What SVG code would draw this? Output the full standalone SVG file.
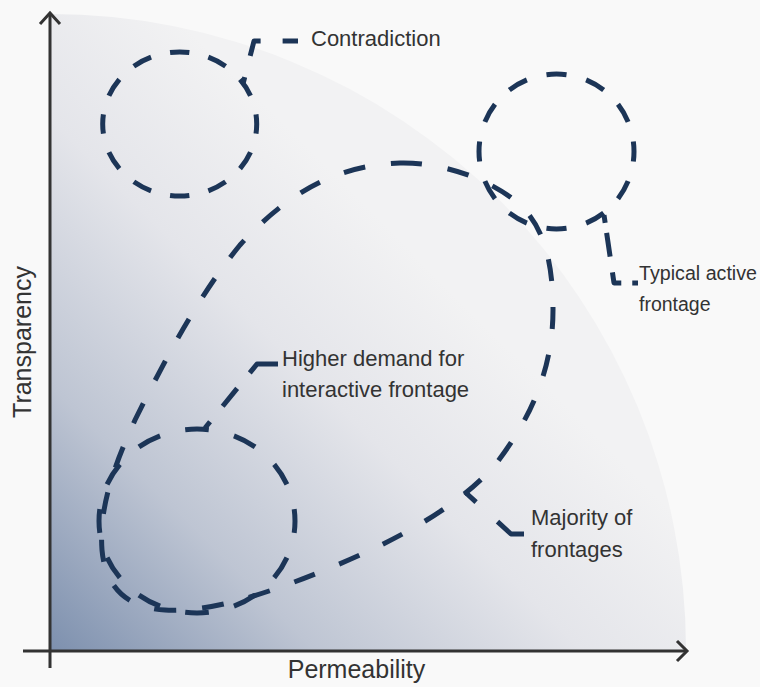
<svg xmlns="http://www.w3.org/2000/svg" width="760" height="687" viewBox="0 0 760 687">
  <defs>
    <linearGradient id="grad" gradientUnits="userSpaceOnUse" x1="50" y1="650" x2="430" y2="270">
      <stop offset="0" stop-color="#7d90ae"/>
      <stop offset="0.35" stop-color="#bec5d3"/>
      <stop offset="0.7" stop-color="#e4e5ea"/>
      <stop offset="1" stop-color="#f2f2f3"/>
    </linearGradient>
  </defs>
  <style>
    .zone { fill: none; stroke: #1c3557; stroke-width: 5; }
    .leader { fill: none; stroke: #1c3557; stroke-width: 5; stroke-linejoin: round; }
    .axis { fill: none; stroke: #333333; stroke-width: 3; }
    .lbl { font-family: "Liberation Sans", Arial, sans-serif; font-size: 22px; fill: #333333; }
    .lbl-s { font-family: "Liberation Sans", Arial, sans-serif; font-size: 19.5px; fill: #333333; }
    .ax { font-family: "Liberation Sans", Arial, sans-serif; font-size: 25px; fill: #333333; }
  </style>
  <rect x="0" y="0" width="760" height="687" fill="#f9f9f9"/>
  <path d="M 50 650 L 50 14 A 636 636 0 0 1 686 650 Z" fill="url(#grad)"/>

  <g id="axes">
    <line class="axis" x1="50" y1="668" x2="50" y2="14"/>
    <polyline class="axis" points="40,24 50,13 60,24"/>
    <line class="axis" x1="23" y1="651" x2="687" y2="651"/>
    <polyline class="axis" points="677,641 687,651 677,661"/>
    <text class="ax" x="356.5" y="678" text-anchor="middle">Permeability</text>
    <text class="ax" transform="translate(31,342) rotate(-90)" text-anchor="middle">Transparency</text>
  </g>

  <g id="contradiction">
    <ellipse class="zone" cx="179.7" cy="124" rx="77" ry="72" pathLength="480" stroke-dasharray="20 20" stroke-dashoffset="10"/>
    <text class="lbl" x="311" y="46">Contradiction</text>
  </g>

  <g id="typical-active">
    <circle class="zone" cx="556.5" cy="151.5" r="77.5" pathLength="480" stroke-dasharray="20 20" stroke-dashoffset="10"/>
    <text class="lbl-s" x="639" y="280" textLength="118" lengthAdjust="spacingAndGlyphs">Typical active</text>
    <text class="lbl-s" x="639" y="311">frontage</text>
  </g>

  <g id="higher-demand">
    <ellipse class="zone" cx="197" cy="521" rx="98" ry="92" pathLength="600" stroke-dasharray="24 26" stroke-dashoffset="12"/>
    <text class="lbl" x="282" y="366">Higher demand for</text>
    <text class="lbl" x="282" y="397">interactive frontage</text>
  </g>

  <g id="majority">
    <path class="zone" stroke-dasharray="22 26" d="M 400 163 C 440 162, 490 178, 520 205 C 545 228, 553 265, 553 310 C 553 370, 530 420, 495 465 C 460 505, 400 540, 320 572 C 260 596, 210 612, 165 610 C 125 608, 105 585, 102 550 C 99 510, 112 470, 135 420 C 160 370, 195 300, 240 245 C 290 190, 340 165, 400 163 Z"/>
    <text class="lbl" x="531" y="525">Majority of</text>
    <text class="lbl" x="531" y="557">frontages</text>
  </g>

  <g id="connectors">
    <path class="leader" d="M 243 84 L 254 41 L 298 41" stroke-dasharray="22 22" stroke-dashoffset="15"/>
    <path class="leader" d="M 604 215 L 614 283 L 638 283" stroke-dasharray="8 10 24 16 18 11 8"/>
    <path class="leader" d="M 205 428 L 257 364 L 278 364" stroke-dasharray="8 20 23 20 34"/>
    <path class="leader" d="M 465 492 L 511 534 L 524 534" stroke-dasharray="15 29 32"/>
  </g>
</svg>
